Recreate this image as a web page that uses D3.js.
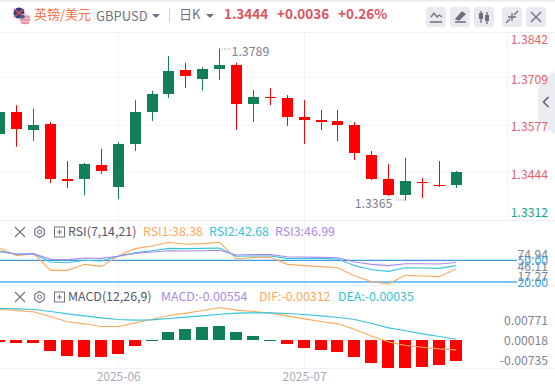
<!DOCTYPE html>
<html>
<head>
<meta charset="utf-8">
<script src="https://cdn.jsdelivr.net/npm/d3@7"></script>
<style>
  html, body { margin: 0; padding: 0; background: #fff; overflow: hidden; }
  text { font-family: "Noto Sans CJK SC", "Noto Sans", sans-serif; }
  .domain { display: none; }
</style>
</head>
<body>
<div id="wrapper"></div>
<script>
// candles, one entry per bar
const open  = [1.3551,1.3612,1.3562,1.3578,1.3425,1.3425,1.3464,1.3403,1.3523,1.3612,1.3662,1.3729,1.3704,1.3732,1.3743,1.3634,1.3654,1.3651,1.3598,1.3590,1.3587,1.3576,1.3492,1.3425,1.3380,1.3417,1.3408,1.3408];
const high  = [1.3612,1.3631,1.3621,1.3584,1.3475,1.3470,1.3509,1.3528,1.3645,1.3671,1.3768,1.3749,1.3737,1.3789,1.3749,1.3673,1.3679,1.3659,1.3645,1.3618,1.3618,1.3584,1.3503,1.3467,1.3484,1.3428,1.3475,1.3447];
const low   = [1.3551,1.3515,1.3531,1.3414,1.3400,1.3380,1.3439,1.3369,1.3503,1.3587,1.3651,1.3679,1.3671,1.3701,1.3562,1.3584,1.3631,1.3573,1.3523,1.3562,1.3531,1.3478,1.3422,1.3378,1.3365,1.3372,1.3403,1.3400];
const close = [1.3612,1.3565,1.3576,1.3425,1.3419,1.3467,1.3447,1.3523,1.3612,1.3662,1.3726,1.3712,1.3732,1.3743,1.3634,1.3654,1.3651,1.3598,1.3590,1.3584,1.3576,1.3498,1.3425,1.3380,1.3419,1.3414,1.3405,1.3444];

const rsi1 = [66.5,56.4,59.2,36.1,36.1,44.4,41.6,55.9,66.1,69.8,74.9,72.1,73.0,74.94,51.8,54.1,54.1,44.4,42.6,41.2,39.8,28.3,20.4,17.27,29.2,28.3,27.4,38.38];
const rsi2 = [62.8,58.2,58.7,47.6,46.7,50.0,49.0,55.5,60.5,63.3,66.5,66.1,66.5,67.0,55.5,55.9,55.9,52.7,52.7,52.7,51.8,42.6,37.0,34.7,39.8,39.3,38.9,42.68];
const rsi3 = [61.5,58.7,59.2,51.3,50.9,53.2,52.7,55.5,59.6,61.5,63.3,62.8,63.3,63.8,57.3,57.8,57.8,55.0,54.5,54.1,53.6,47.6,44.4,42.6,45.3,45.3,44.9,46.99];

const macd = [-0.00053,-0.00079,-0.00079,-0.00291,-0.00423,-0.00449,-0.00449,-0.0037,-0.00159,0.0001,0.00211,0.00291,0.00344,0.0037,0.00211,0.00106,0.0001,-0.00106,-0.00211,-0.00264,-0.00317,-0.00449,-0.00608,-0.0074,-0.00735,-0.00714,-0.00661,-0.00554];
const dif  = [0.00811,0.00784,0.00749,0.00617,0.00485,0.00432,0.00361,0.00361,0.00458,0.00555,0.00652,0.00714,0.00784,0.00855,0.00793,0.00758,0.00714,0.00643,0.00564,0.00493,0.00432,0.00282,0.00106,-0.00044,-0.00141,-0.00185,-0.00229,-0.00255];
const dea  = [0.00837,0.00828,0.00811,0.00758,0.00696,0.00643,0.0059,0.00546,0.00529,0.00537,0.00573,0.00608,0.00643,0.00687,0.00714,0.00722,0.00722,0.00705,0.00678,0.00643,0.00599,0.00546,0.0044,0.00326,0.00247,0.00167,0.00097,0.00026];

const monthIndex  = [7, 18];
const monthLabels = ["2025-06", "2025-07"];
const priceTicks  = [1.3842, 1.3709, 1.3577, 1.3444, 1.3312];
const rsiLevels   = [50, 20];
const rsiTicks    = [74.94, 46.11, 17.27];
const macdTicks   = [0.00771, 0.00018, -0.00735];

const width = 555, height = 389;
const plotRight = 507;
const pane = { top: 32, priceBottom: 220, rsiBottom: 285, macdBottom: 368 };
const green = "#118059", red = "#ff0000";
const orange = "#ffa85c", cyan = "#36c3dc", purple = "#a98ce8";
const grid = "#f3f4f7", border = "#eef0f4";
const bars = d3.range(close.length);

const svg = d3.select("#wrapper").append("svg")
  .attr("width", width).attr("height", height)
  .style("display", "block");

// scales
const x = d3.scaleLinear().domain([0, 27]).range([-0.1, 456.2]);
const px = (i) => Math.floor(x(i)) + 0.5;
const priceY = d3.scaleLinear().domain([1.3365, 1.3789]).range([200.5, 48.5]);
const rsiY = d3.scaleLinear().domain([20, 50]).range([282, 260.3]);
const macdY = d3.scaleLinear().domain([-0.00735, 0.00771]).range([368, 311]);

// frame and grid
svg.append("rect").attr("width", width).attr("height", 1.5).attr("fill", "#e9ebf1");
[pane.top, pane.priceBottom, pane.rsiBottom, pane.macdBottom].forEach((y) => {
  svg.append("line").attr("x1", 0).attr("x2", width).attr("y1", y + 0.5).attr("y2", y + 0.5)
    .attr("stroke", border);
});
priceTicks.slice(1, 4).forEach((t) => {
  const y = Math.round(priceY(t)) + 0.5;
  svg.append("line").attr("x1", 0).attr("x2", width).attr("y1", y).attr("y2", y).attr("stroke", grid);
});
monthIndex.forEach((i) => {
  svg.append("line").attr("x1", px(i)).attr("x2", px(i)).attr("y1", pane.top).attr("y2", pane.macdBottom)
    .attr("stroke", grid);
});
svg.append("line").attr("x1", plotRight + 0.5).attr("x2", plotRight + 0.5)
  .attr("y1", pane.top).attr("y2", pane.priceBottom).attr("stroke", grid);

// side collapse tab, the price labels sit on top of it
svg.append("path").attr("d", "M555,71L541,83Q538,86 538,90V118Q538,122 541,124L555,134Z").attr("fill", "#ebecf2");
svg.append("path").attr("d", "M548.5,97L543.5,102L548.5,107").attr("fill", "none")
  .attr("stroke", "#5f6371").attr("stroke-width", 1.6);

// candles
const candle = svg.append("g").selectAll("g").data(bars).join("g")
  .attr("fill", (i) => close[i] >= open[i] ? green : red);
candle.append("rect")
  .attr("x", (i) => px(i) - 0.5).attr("width", 1)
  .attr("y", (i) => priceY(high[i]))
  .attr("height", (i) => priceY(low[i]) - priceY(high[i]));
candle.append("rect")
  .attr("x", (i) => px(i) - 5.5).attr("width", 11)
  .attr("y", (i) => Math.round(priceY(Math.max(open[i], close[i]))))
  .attr("height", (i) => Math.max(1, Math.round(Math.abs(priceY(open[i]) - priceY(close[i])))));

// high / low notes
const hi = d3.maxIndex(high);
const lo = d3.minIndex(low);
svg.append("line").attr("x1", px(hi) + 2).attr("x2", px(hi) + 11)
  .attr("y1", priceY(high[hi]) + 0.5).attr("y2", priceY(high[hi]) + 0.5)
  .attr("stroke", "#8b8e9b").attr("stroke-dasharray", "1 1.5");
svg.append("text").attr("x", px(hi) + 12).attr("y", priceY(high[hi]) + 7)
  .attr("fill", "#7f8290").attr("font-size", 12.4).text(d3.format(".4f")(high[hi]));
svg.append("line").attr("x1", px(lo) - 10).attr("x2", px(lo) - 1)
  .attr("y1", priceY(low[lo]) - 0.5).attr("y2", priceY(low[lo]) - 0.5)
  .attr("stroke", "#8b8e9b").attr("stroke-dasharray", "1 1.5");
svg.append("text").attr("x", px(lo) - 13).attr("y", priceY(low[lo]) + 7).attr("text-anchor", "end")
  .attr("fill", "#7f8290").attr("font-size", 12.4).text(d3.format(".4f")(low[lo]));

// RSI
rsiLevels.forEach((v, k) => {
  svg.append("line").attr("x1", 0).attr("x2", plotRight + 10)
    .attr("y1", rsiY(v)).attr("y2", rsiY(v))
    .attr("stroke", k === 0 ? "#3a9be8" : "#7cc4f8")
    .attr("stroke-width", k === 0 ? 1.2 : 2);
});
const rsiLine = d3.line().x((d, i) => x(i)).y((d) => rsiY(d));
[[rsi1, orange], [rsi2, cyan], [rsi3, purple]].forEach(([s, c]) => {
  svg.append("path").attr("d", rsiLine(s)).attr("fill", "none").attr("stroke", c).attr("stroke-width", 1.1);
});

// MACD
svg.append("g").selectAll("rect").data(bars).join("rect")
  .attr("x", (i) => px(i) - 6.5).attr("width", 12)
  .attr("y", (i) => macd[i] > 0 ? Math.round(macdY(macd[i])) : Math.round(macdY(0)))
  .attr("height", (i) => Math.max(1, Math.round(Math.abs(macdY(macd[i]) - macdY(0)))))
  .attr("fill", (i) => macd[i] > 0 ? green : red);
const macdLine = d3.line().x((d, i) => x(i)).y((d) => macdY(d));
[[dif, orange], [dea, cyan]].forEach(([s, c]) => {
  svg.append("path").attr("d", macdLine(s)).attr("fill", "none").attr("stroke", c).attr("stroke-width", 1.1);
});

// axes
const priceAxis = svg.append("g").attr("transform", `translate(${plotRight + 41},0)`)
  .call(d3.axisLeft(priceY).tickValues(priceTicks).tickFormat(d3.format(".4f")).tickSize(0));
priceAxis.selectAll("text")
  .attr("font-size", 12.2).style("font-family", "'Noto Sans CJK SC'")
  .attr("fill", (d) => d >= close[close.length - 1] ? "#e4616f" : "#17a77c")
  .attr("x", 0).attr("dy", "0.4em");
priceAxis.selectAll(".tick")
  .attr("transform", (d) => `translate(0,${Math.min(212, Math.max(39.5, priceY(d) + 2))})`);

const sideLabels = [[rsiTicks[0], 254, "#7f8290"], [rsiTicks[1], 266, "#7f8290"], [rsiTicks[2], 276, "#7f8290"],
                    [rsiLevels[0], 260.5, "#3a9be8"], [rsiLevels[1], 282.5, "#3a9be8"]];
sideLabels.forEach(([v, y, c]) => {
  svg.append("text").attr("x", plotRight + 41).attr("y", y).attr("dy", "0.4em").attr("text-anchor", "end")
    .attr("font-size", 12.2).attr("fill", c).text(d3.format(".2f")(v));
});
macdTicks.forEach((v, k) => {
  svg.append("text").attr("x", plotRight + 41).attr("y", [319.7, 340, 360.3][k]).attr("dy", "0.4em")
    .attr("text-anchor", "end").attr("font-size", 12.2).attr("fill", "#7f8290").text(d3.format(".5f")(v).replace("−", "-"));
});

const timeAxis = svg.append("g").attr("transform", `translate(0,${pane.macdBottom})`)
  .call(d3.axisBottom(x).tickValues(monthIndex).tickFormat((d, i) => monthLabels[i]).tickSize(0));
timeAxis.selectAll("text").attr("font-size", 12).attr("fill", "#a8abb6")
  .style("font-family", "'Noto Sans CJK SC'").attr("y", 4);

// header
const headerText = (tx, ty, str, color, size, weight) => svg.append("text")
  .attr("x", tx).attr("y", ty).attr("fill", color).attr("font-size", size)
  .attr("font-weight", weight || 400).text(str);
const caret = (cx, cy) => svg.append("path")
  .attr("d", `M${cx - 4},${cy - 2}L${cx + 4},${cy - 2}L${cx},${cy + 2}Z`).attr("fill", "#6f7280");

// flags
svg.append("circle").attr("cx", 19).attr("cy", 13).attr("r", 5.5).attr("fill", "#2f3f73");
svg.append("path").attr("d", "M14,9L24,17M24,9L14,17").attr("stroke", "#d8566a").attr("stroke-width", 1.6);
svg.append("circle").attr("cx", 25).attr("cy", 19).attr("r", 5.5).attr("fill", "#f6c9cf");
svg.append("path").attr("d", "M20,17H30M20,20H30M21,23H29").attr("stroke", "#dd6472").attr("stroke-width", 1.2);
svg.append("path").attr("d", "M20,15H24.5V18.5H20Z").attr("fill", "#4a5a8c");

headerText(34, 19, "英镑/美元", "#f97445", 13);
headerText(96, 21, "GBPUSD", "#6f7280", 13);
caret(156, 16);
svg.append("line").attr("x1", 169.5).attr("x2", 169.5).attr("y1", 9).attr("y2", 22).attr("stroke", "#c9ccd5");
headerText(179, 19, "日K", "#6f7280", 13);
caret(210, 16);
headerText(224, 19, "1.3444", "#e0515f", 13.5, 700);
headerText(277, 19, "+0.0036", "#e0515f", 13.5, 700);
headerText(338, 19, "+0.26%", "#e0515f", 13.5, 700);

// toolbar buttons
const iconColor = "#6b6f7c";
const buttons = [
  "M5,10L8,6L11,10L13,8L16,10M4,15H16",
  "M5,15H16M6,12L12,5L15,7L9,13Z",
  "M7,4V16M13,5V17",
  "M4,16L8,12M16,4L12,8M6,10H10V14M10,6V10H14",
  "M5,5L15,15M15,5L5,15"
];
[426, 450, 474, 502, 526].forEach((bx, k) => {
  const b = svg.append("g").attr("transform", `translate(${bx},7)`);
  b.append("rect").attr("width", 20).attr("height", 20).attr("rx", 4).attr("fill", "#e8eaf0");
  b.append("path").attr("d", buttons[k]).attr("fill", k === 1 ? iconColor : "none")
    .attr("stroke", iconColor).attr("stroke-width", 1.3);
  if (k === 2) {
    b.append("rect").attr("x", 5).attr("y", 6).attr("width", 4).attr("height", 6).attr("fill", iconColor);
    b.append("rect").attr("x", 11).attr("y", 8).attr("width", 4).attr("height", 6).attr("fill", iconColor);
  }
});

// indicator headers
function indicatorHead(y) {
  svg.append("path").attr("d", `M15,${y - 5}L25,${y + 5}M25,${y - 5}L15,${y + 5}`)
    .attr("stroke", "#6f7280").attr("stroke-width", 1.1);
  svg.append("path").attr("d", d3.range(6).map((k) => {
    const a = Math.PI / 3 * k - Math.PI / 2;
    return (k ? "L" : "M") + (39.5 + 5.5 * Math.cos(a)) + "," + (y + 5.5 * Math.sin(a));
  }).join("") + "Z").attr("fill", "none").attr("stroke", "#6f7280").attr("stroke-width", 1.1);
  svg.append("circle").attr("cx", 39.5).attr("cy", y).attr("r", 2).attr("fill", "none").attr("stroke", "#6f7280");
  svg.append("rect").attr("x", 54.5).attr("y", y - 5).attr("width", 10).attr("height", 10)
    .attr("fill", "none").attr("stroke", "#6f7280");
  svg.append("path").attr("d", `M57,${y}H62M59.5,${y - 2.5}V${y + 2.5}`).attr("stroke", "#6f7280");
}
indicatorHead(232);
indicatorHead(297);
headerText(68, 236, "RSI(7,14,21)", "#555866", 12.4);
headerText(143, 236, "RSI1:" + rsi1[27].toFixed(2), orange, 12.4);
headerText(209, 236, "RSI2:" + rsi2[27].toFixed(2), cyan, 12.4);
headerText(275, 236, "RSI3:" + rsi3[27].toFixed(2), purple, 12.4);
headerText(68, 301, "MACD(12,26,9)", "#555866", 12.4);
headerText(161, 301, "MACD:" + macd[27].toFixed(5), purple, 12.4);
headerText(259, 301, "DIF:-0.00312", orange, 12.4);
headerText(338, 301, "DEA:-0.00035", cyan, 12.4);
</script>
</body>
</html>
